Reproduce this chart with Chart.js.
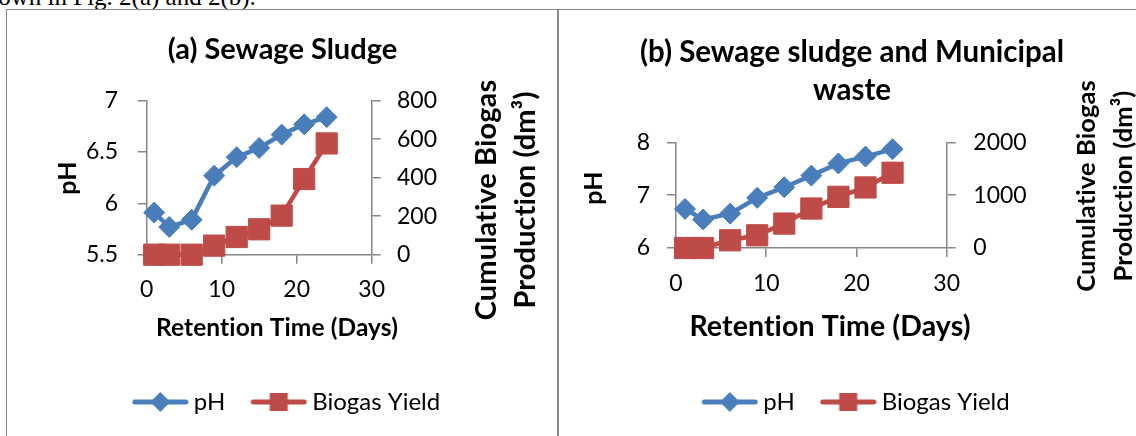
<!DOCTYPE html>
<html>
<head>
<meta charset="utf-8">
<script src="https://cdn.jsdelivr.net/npm/chart.js@4.4.1/dist/chart.umd.min.js"></script>
<style>
  html, body { margin: 0; padding: 0; background: #fff; overflow: hidden; }
  body { width: 1136px; height: 436px; position: relative; }
  #lead { position: absolute; left: -24px; top: -16.5px; font: 25px/25px "Liberation Serif", serif; white-space: nowrap; color: #000; }
  #frame { position: absolute; left: 6px; top: 9px; width: 1200px; height: 500px; border-top: 1.5px solid #888; border-left: 1.5px solid #888; }
  #divider { position: absolute; left: 557px; top: 9px; width: 1.5px; height: 500px; background: #888; }
  canvas { position: absolute; }
  #chartA { left: 7px; top: 10px; }
  #chartB { left: 558px; top: 10px; }
</style>
</head>
<body>
<div id="lead">shown in Fig. 2(a) and 2(b).</div>
<div id="frame"></div>
<div id="divider"></div>
<canvas id="chartA" width="551" height="426"></canvas>
<canvas id="chartB" width="588" height="426"></canvas>
<script>
// retention time (days) and readings taken from the figure
const days = [1, 3, 6, 9, 12, 15, 18, 21, 24];
const phA = [5.91, 5.77, 5.84, 6.27, 6.45, 6.54, 6.67, 6.77, 6.84];
const biogasA = [0, 0, 0, 47, 92, 132, 203, 393, 578];
const phB = [6.74, 6.54, 6.65, 6.95, 7.15, 7.37, 7.6, 7.73, 7.87];
const biogasB = [0, 0, 146, 240, 462, 747, 968, 1146, 1424];

const dayTicks = [0, 10, 20, 30];
const phTicksA = [5.5, 6, 6.5, 7];
const biogasTicksA = [0, 200, 400, 600, 800];
const phTicksB = [6, 7, 8];
const biogasTicksB = [0, 1000, 2000];

const blue = '#4A7EBB';
const red = '#BE4B48';
const axisGrey = '#868686';

Chart.defaults.font.family = 'Lato';
Chart.defaults.color = '#000';

// legend icon: short line with the marker in the middle (Excel style)
// drawn with some empty room on the left so it lines up like the original
function legendIcon(color, shape) {
  const c = document.createElement('canvas');
  c.width = 71; c.height = 24;
  const g = c.getContext('2d');
  const cx = 14 + 28.5;
  g.strokeStyle = color; g.lineWidth = 5; g.lineCap = 'round';
  g.beginPath(); g.moveTo(17, 12); g.lineTo(68, 12); g.stroke();
  g.fillStyle = color;
  g.beginPath();
  if (shape === 'diamond') {
    g.moveTo(cx - 10, 12); g.lineTo(cx, 2); g.lineTo(cx + 10, 12); g.lineTo(cx, 22);
  } else {
    g.rect(cx - 9, 3, 18, 18);
  }
  g.fill();
  return c;
}
const icons = [legendIcon(blue, 'diamond'), legendIcon(red, 'square')];

// axis titles drawn by hand so they can sit where Excel put them
const axisTitles = {
  id: 'axisTitles',
  afterDraw(chart, args, opts) {
    const ctx = chart.ctx;
    (opts.items || []).forEach(t => {
      const lines = [].concat(t.text);
      ctx.save();
      ctx.translate(t.x, t.y);
      ctx.rotate(t.rotate || 0);
      ctx.font = 'bold ' + t.size + 'px Lato';
      ctx.letterSpacing = '0.1px'; // keeps "ti" from turning into a ligature
      ctx.fillStyle = '#000';
      ctx.textAlign = 'center';
      ctx.textBaseline = 'middle';
      lines.forEach((line, i) => ctx.fillText(line, 0, (i - (lines.length - 1) / 2) * (t.lineHeight || 0)));
      ctx.restore();
    });
  }
};

function fixedTicks(values) {
  return scale => { scale.ticks = values.map(v => ({ value: v })); };
}

function valueAxis(position, ticks, width, pad) {
  return {
    type: 'linear',
    position: position,
    min: ticks[0],
    max: ticks[ticks.length - 1],
    afterBuildTicks: fixedTicks(ticks),
    afterFit: scale => { scale.width = width; },
    border: { color: axisGrey, width: 1.5 },
    grid: { drawOnChartArea: false, tickLength: 9, color: axisGrey, lineWidth: 1.5 },
    ticks: { padding: pad, font: { size: 23 }, callback: v => String(v) }
  };
}

function dayAxis(height, pad) {
  return {
    type: 'linear',
    min: dayTicks[0],
    max: dayTicks[dayTicks.length - 1],
    afterBuildTicks: fixedTicks(dayTicks),
    afterFit: scale => { scale.height = height; },
    border: { color: axisGrey, width: 1.5 },
    grid: { drawOnChartArea: false, tickLength: 9, color: axisGrey, lineWidth: 1.5 },
    ticks: { padding: pad, font: { size: 23 }, callback: v => String(v) }
  };
}

function series(ph, biogas) {
  return [
    {
      label: 'pH',
      data: days.map((d, i) => ({ x: d, y: ph[i] })),
      yAxisID: 'y',
      borderColor: blue,
      backgroundColor: blue,
      borderWidth: 4.5,
      pointStyle: 'rectRot',
      pointRadius: 10.5,
      pointBorderWidth: 1,
      pointBackgroundColor: blue,
      pointBorderColor: blue,
      tension: 0,
      clip: false
    },
    {
      label: 'Biogas Yield',
      data: days.map((d, i) => ({ x: d, y: biogas[i] })),
      yAxisID: 'y2',
      borderColor: red,
      backgroundColor: red,
      borderWidth: 4.5,
      pointStyle: 'rect',
      pointRadius: 15,
      pointBorderWidth: 1,
      pointBackgroundColor: red,
      pointBorderColor: red,
      tension: 0,
      clip: false
    }
  ];
}

const legendOpts = {
  position: 'bottom',
  labels: {
    usePointStyle: true,
    pointStyleWidth: 57,
    padding: 18,
    font: { size: 24 },
    generateLabels: chart => Chart.defaults.plugins.legend.labels.generateLabels(chart)
      .map((item, i) => Object.assign(item, { pointStyle: icons[i] }))
  }
};

new Chart(document.getElementById('chartA'), {
  type: 'line',
  data: { datasets: series(phA, biogasA) },
  plugins: [axisTitles],
  options: {
    responsive: false,
    animation: false,
    devicePixelRatio: 1,
    layout: { padding: { bottom: 12 } },
    scales: {
      x: dayAxis(117.3, 12.5),
      y: valueAxis('left', phTicksA, 139.7, 19.7),
      y2: valueAxis('right', biogasTicksA, 186.3, 16.3)
    },
    plugins: {
      title: {
        display: true,
        text: '(a) Sewage Sludge',
        font: { size: 29, weight: 'bold', lineHeight: 1.2 },
        padding: { top: 22.6, bottom: 33.3 }
      },
      legend: legendOpts,
      tooltip: { enabled: false },
      axisTitles: {
        items: [
          { text: 'pH', x: 61, y: 168, rotate: -Math.PI / 2, size: 25 },
          { text: ['Cumulative Biogas', 'Production (dm³)'], x: 499, y: 190, rotate: -Math.PI / 2, size: 29, lineHeight: 39 },
          { text: 'Retention Time (Days)', x: 270, y: 318, size: 24.5 }
        ]
      }
    }
  }
});

new Chart(document.getElementById('chartB'), {
  type: 'line',
  data: { datasets: series(phB, biogasB) },
  plugins: [axisTitles],
  options: {
    responsive: false,
    animation: false,
    devicePixelRatio: 1,
    layout: { padding: { bottom: 12 } },
    scales: {
      x: dayAxis(124, 13.1),
      y: valueAxis('left', phTicksB, 118, 17),
      y2: valueAxis('right', biogasTicksB, 199.3, 17.6)
    },
    plugins: {
      title: {
        display: true,
        text: ['(b) Sewage sludge and Municipal', 'waste'],
        font: { size: 29.5, weight: 'bold', lineHeight: 38 / 29.5 },
        padding: { top: 23, bottom: 33.3 }
      },
      legend: legendOpts,
      tooltip: { enabled: false },
      axisTitles: {
        items: [
          { text: 'pH', x: 36, y: 178, rotate: -Math.PI / 2, size: 25 },
          { text: ['Cumulative Biogas', 'Production (dm³)'], x: 547.5, y: 176, rotate: -Math.PI / 2, size: 25.5, lineHeight: 37 },
          { text: 'Retention Time (Days)', x: 272, y: 317, size: 28.5 }
        ]
      }
    }
  }
});
</script>
</body>
</html>
